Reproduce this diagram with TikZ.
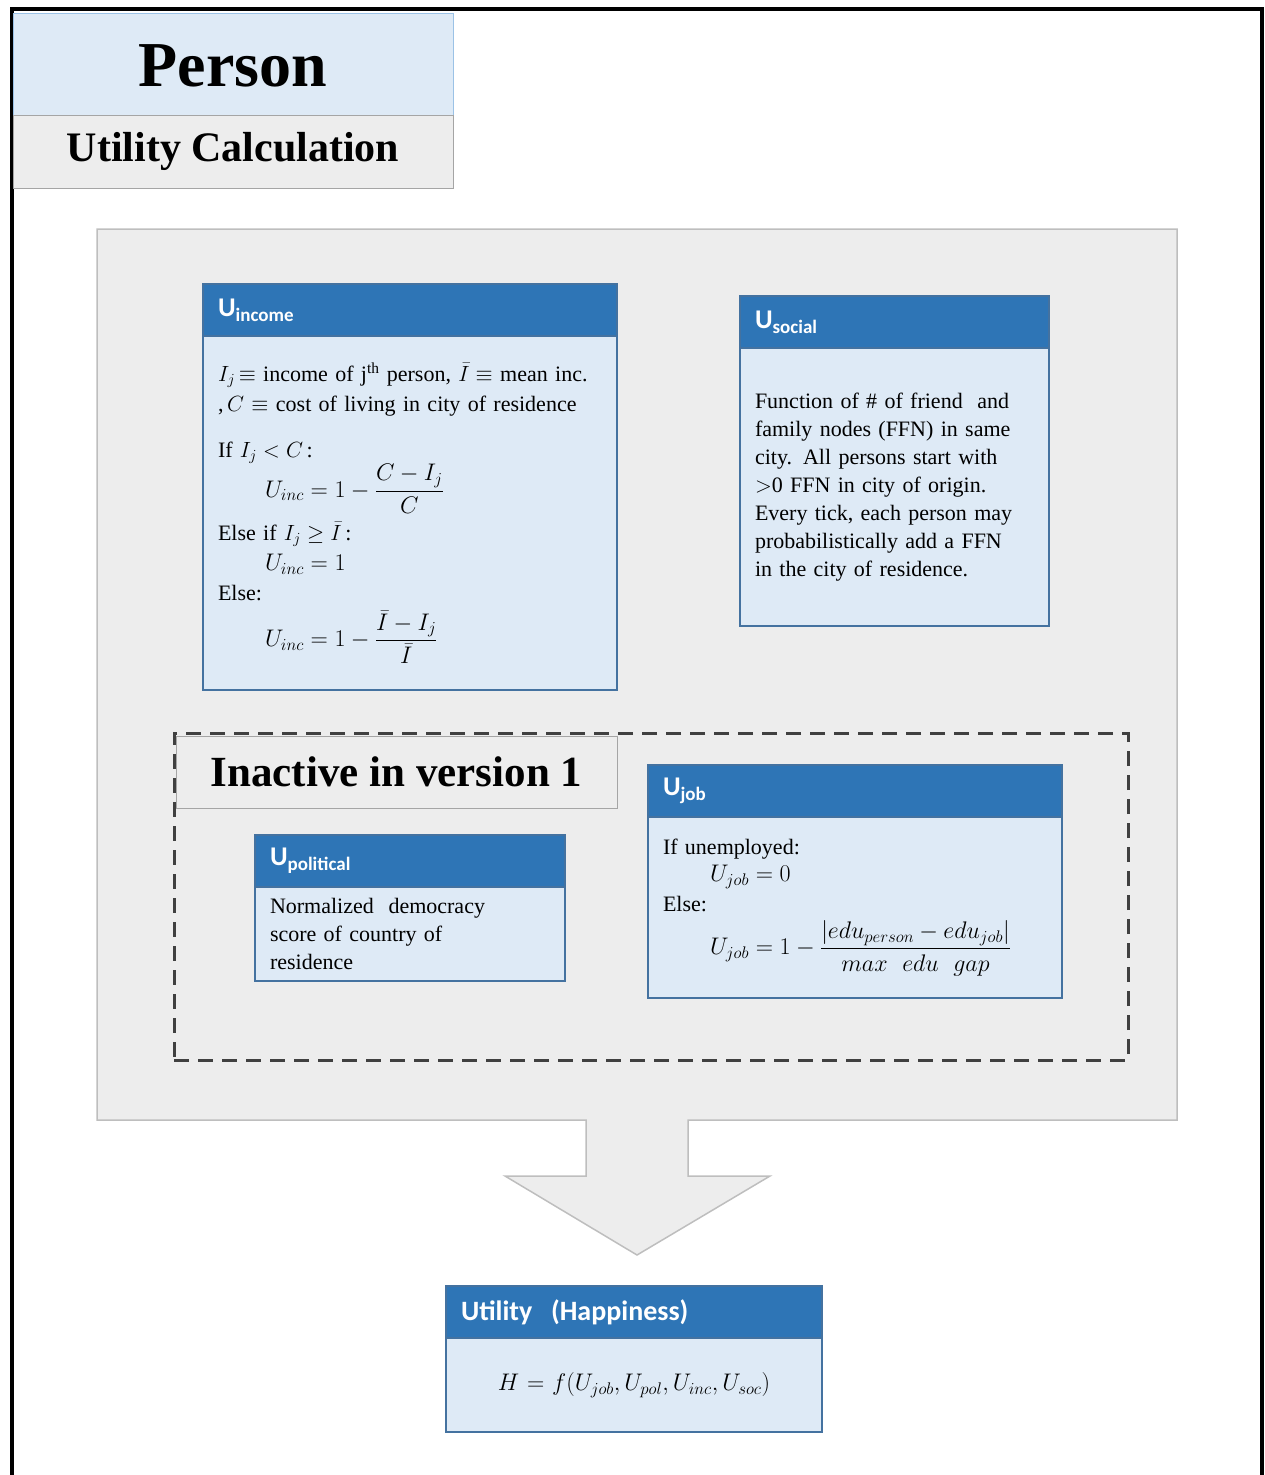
\documentclass[tikz,border=0pt]{standalone}
\usepackage{fix-cm}
\usepackage{amsmath,amssymb}
\usepackage{fontspec}
\setmainfont{Liberation Serif}
\newfontfamily\calibri{Carlito}
\usepackage{tikz}
\usetikzlibrary{positioning}
\definecolor{hdrblue}{RGB}{46,117,182}
\definecolor{bodyblue}{RGB}{222,234,246}
\definecolor{boxline}{RGB}{68,114,160}
\definecolor{panelgray}{RGB}{237,237,237}
\definecolor{panelline}{RGB}{190,190,190}
\definecolor{titleline}{RGB}{155,194,230}
\definecolor{calcline}{RGB}{165,165,165}
\definecolor{dashgray}{RGB}{64,64,64}
\newcommand{\usub}[1]{U\raisebox{-5pt}{\fontsize{19}{19}\selectfont #1}}
\newcommand{\bodyfont}{\fontsize{22}{30}\selectfont}
\newcommand{\eqfont}{\fontsize{24}{30}\selectfont}
\tikzset{
  hdr/.style={draw=boxline, fill=hdrblue, line width=1.2pt, text=white,
    font=\calibri\bfseries\fontsize{27}{30}\selectfont, align=left,
    inner xsep=15pt, minimum height=52pt, outer sep=0pt, anchor=north west},
  bodybox/.style={draw=boxline, fill=bodyblue, line width=1.2pt, font=\bodyfont,
    align=left, inner xsep=15pt, outer sep=0pt, anchor=north west},
  titlebox/.style={draw=titleline, fill=bodyblue, line width=1pt, outer sep=0pt,
    font=\bfseries\fontsize{64}{70}\selectfont, anchor=north west},
  calcbox/.style={draw=calcline, fill=panelgray, line width=1pt, outer sep=0pt,
    font=\bfseries\fontsize{42}{46}\selectfont, anchor=north west},
  dashbox/.style={draw=dashgray, line width=3pt, dash pattern=on 15pt off 9pt,
    outer sep=0pt, anchor=north west},
}
\begin{document}
\begin{tikzpicture}[x=1pt,y=-1pt]
\useasboundingbox (0,0) rectangle (1265,1475);
% frame, its bottom edge lies below the page
\draw[line width=4pt] (12,1490) -- (12,9) -- (1262,9) -- (1262,1490);

% grey panel with the block arrow
\draw[fill=panelgray, draw=panelline, line width=1.5pt]
  (97,229) -- (1177,229) -- (1177,1120) -- (688,1120) -- (688,1176) -- (770,1176)
  -- (637,1255) -- (505,1176) -- (586,1176) -- (586,1120) -- (97,1120) -- cycle;

% title
\node[titlebox, minimum width=440pt, minimum height=102pt, text depth=0pt] (person) at (13,13) {\raisebox{-4pt}{Person}};
\node[calcbox, minimum width=440pt, minimum height=73pt] (calc) at (person.south west) {Utility Calculation};

% income
\node[hdr, text width=384pt] (inchead) at (203,284) {\usub{income}};
\node[bodybox, text width=384pt, minimum height=354pt] (incbody) at (inchead.south west) {%
$I_j$\,$\equiv$ income of j\textsuperscript{th} person, $\bar{I}\equiv$ mean inc.\\
,\,$C$ $\equiv$ cost of living in city of residence\\[16pt]
If $I_j<C$\,:\\
\hspace*{47pt}{\eqfont$U_{inc}=1-\dfrac{C-I_j}{C}$}\\[8pt]
Else if $I_j\geq\bar{I}$\,:\\
\hspace*{47pt}{\eqfont$U_{inc}=1$}\\
Else:\\[9pt]
\hspace*{47pt}{\eqfont$U_{inc}=1-\dfrac{\bar{I}-I_j}{\bar{I}}$}};

% social
\node[hdr, text width=279pt] (sochead) at (740,296) {\usub{social}};
\node[bodybox, text width=279pt, minimum height=278pt, font=\fontsize{22}{28}\selectfont] (socbody) at (sochead.south west) {%
Function of \# of friend\ \ and\\
family nodes\ (FFN)\ in same\\
city. All persons\ start with\\
$>$0 FFN in city of origin.\\
Every tick, each person\ may\\
probabilistically\ add a FFN\\
in the city of residence.};

% inactive part
\node[dashbox, minimum width=954pt, minimum height=327pt] (inactive) at (174,733) {};
\node[calcbox, font=\bfseries\fontsize{43}{46}\selectfont, minimum width=441pt, minimum height=72pt] (inlabel) at (176,736) {Inactive in version\ 1};

% political
\node[hdr, text width=280pt] (polhead) at (255,835) {\usub{political}};
\node[bodybox, text width=280pt, minimum height=94pt, font=\fontsize{22}{28}\selectfont] (polbody) at (polhead.south west) {%
Normalized\ \ democracy\\
score of country of\\
residence};

% job
\node[hdr, text width=384pt] (jobhead) at (648,765) {\usub{job}};
\node[bodybox, text width=384pt, minimum height=181pt] (jobbody) at (jobhead.south west) {%
If unemployed:\\[-3pt]
\hspace*{47pt}{\eqfont$U_{job}=0$}\\
Else:\\[8pt]
\hspace*{47pt}{\eqfont$U_{job}=1-\dfrac{\left|edu_{person}-edu_{job}\right|}{max\ \ edu\ \ gap}$}};

% result
\node[hdr, text width=346pt, font=\calibri\bfseries\fontsize{28}{30}\selectfont] (utilhead) at (446,1286) {Utility\ \ (Happiness)};
\node[bodybox, text width=346pt, minimum height=94pt, align=center, font=\eqfont] (utilbody) at (utilhead.south west) {%
$H\!=\!f(U_{job},U_{pol},U_{inc},U_{soc})$};
\end{tikzpicture}
\end{document}
